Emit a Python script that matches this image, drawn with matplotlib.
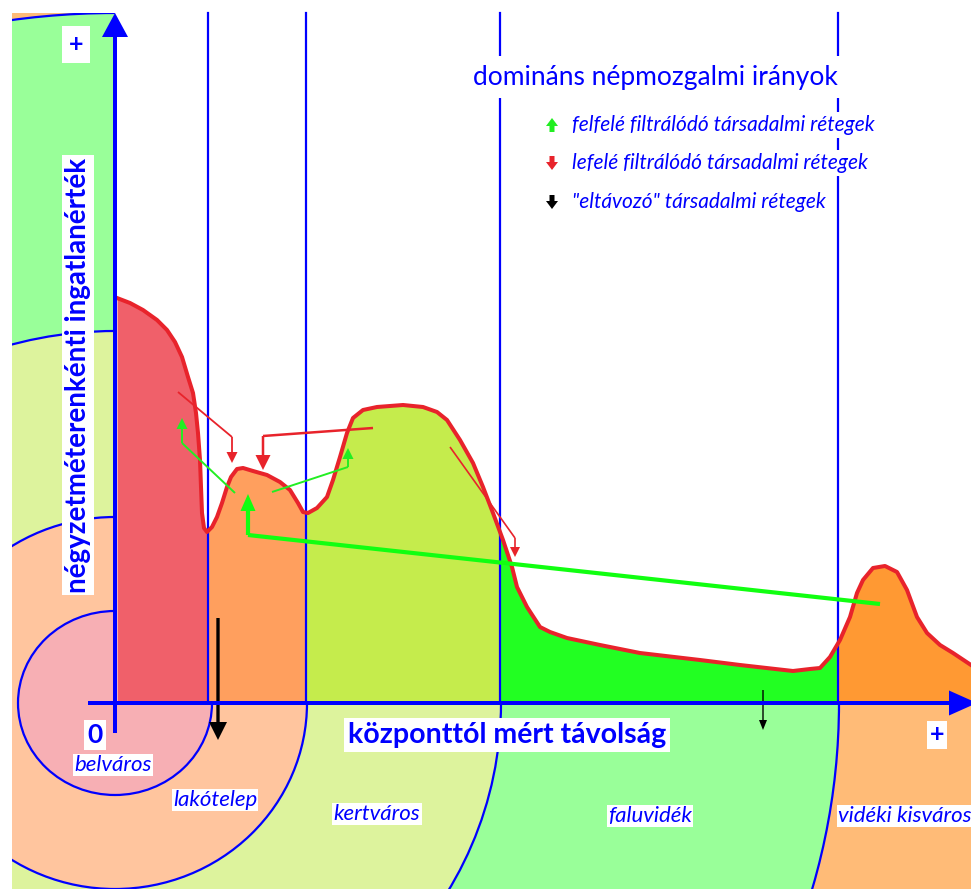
"""
filtering diagram: property value per square metre vs distance from the centre,
with the settlement zones drawn as rings round the origin.
"""

import numpy as np
import matplotlib.pyplot as plt
from matplotlib.patches import Ellipse, Rectangle

# zones (distance where each one ends) and their names
zone_names = ['belváros', 'lakótelep', 'kertváros', 'faluvidék', 'vidéki kisváros']
zone_ends = [93, 191, 385, 723, 856]
ring_widths = [97, 192, 386, 724]
ring_heights = [92, 186, 372, 690]

# property value curve
distance = [2, 15, 28, 42, 52, 60, 67, 73, 78, 81, 83, 85, 86, 87, 89, 92, 97, 102,
            107, 112, 116, 122, 128, 138, 152, 165, 175, 183, 188, 193, 202, 212,
            218, 225, 232, 238, 248, 262, 288, 308, 322, 332, 345, 358, 368, 378,
            388, 397, 402, 412, 425, 435, 452, 485, 525, 585, 625, 678, 695, 705,
            715, 725, 735, 742, 748, 758, 770, 782, 792, 802, 812, 825, 838, 856]
value = [405, 400, 393, 383, 373, 361, 346, 326, 310, 290, 270, 243, 216, 190, 175,
         171, 176, 186, 200, 216, 226, 234, 235, 232, 228, 221, 213, 200, 191, 190,
         195, 206, 223, 246, 270, 285, 293, 296, 298, 296, 291, 283, 263, 240, 216,
         190, 163, 136, 116, 96, 76, 71, 65, 58, 50, 43, 38, 32, 34, 35, 46, 63, 86,
         110, 123, 135, 137, 131, 113, 86, 70, 58, 50, 38]

# migration arrows (distance, value) - the last point is the arrow tip
down_moves = [[(63, 311), (117, 266), (117, 240)],
              [(258, 275), (148, 267), (148, 233)],
              [(335, 256), (400, 165), (400, 146)]]
up_moves = [[(120, 210), (67, 260), (67, 285)],
            [(157, 211), (233, 236), (233, 255)]]
long_up_move = [(765, 99), (133, 168), (133, 209)]
leaving_moves = [[(103, 85), (103, -37)], [(648, 13), (648, -27)]]

legend_labels = ['felfelé filtrálódó társadalmi rétegek',
                 'lefelé filtrálódó társadalmi rétegek',
                 '"eltávozó" társadalmi rétegek']

ring_colors = ['#f7afb4', '#ffc59e', '#ddf39d', '#99ff99', '#ffbb77']
fill_colors = ['#f0606a', '#ff9f5e', '#c5ec4c', '#22ff22', '#ff9933']
blue = '#0000ff'
red = '#e8232b'
green = '#22ee22'

plt.rcParams['font.family'] = ['Lato', 'DejaVu Sans']

fig = plt.figure(figsize=(9.71, 8.89), dpi=100)
ax = fig.add_axes([0, 0, 1, 1])
ax.set_xlim(-115, 856)
ax.set_ylim(-186, 703)
ax.axis('off')

frame = Rectangle((-103, -186), 959, 876, transform=ax.transData)

# background rings
bg = ax.add_patch(Rectangle((-103, -186), 959, 876, color=ring_colors[-1], zorder=0))
bg.set_clip_path(frame)
for w, h, c in reversed(list(zip(ring_widths, ring_heights, ring_colors[:-1]))):
    e = ax.add_patch(Ellipse((0, 0), 2 * w, 2 * h, facecolor=c, edgecolor=blue, lw=1.6, zorder=0))
    e.set_clip_path(frame)

# chart area is white
ax.add_patch(Rectangle((0, 0), 856, 690, color='white', zorder=1))

# filled curve, coloured by zone
starts = [0] + zone_ends[:-1]
for x0, x1, c in zip(starts, zone_ends, fill_colors):
    f = ax.fill_between(distance, value, 0, color=c, lw=0, zorder=2)
    f.set_clip_path(Rectangle((x0, 0), x1 - x0, 690, transform=ax.transData))

for x in zone_ends[:-1]:
    ax.plot([x, x], [0, 690], color=blue, lw=1.6, zorder=3)

ax.plot(distance, value, color=red, lw=2.9, solid_joinstyle='round', zorder=4)


def elbow_arrow(pts, color, lw, head_w, head_l):
    xs, ys = zip(*pts[:-1])
    ax.plot(xs, ys, color=color, lw=lw, solid_capstyle='butt', zorder=5)
    (x0, y0), (x1, y1) = pts[-2], pts[-1]
    ax.arrow(x0, y0, x1 - x0, y1 - y0, width=lw * 100 / 72, head_width=head_w,
             head_length=head_l, length_includes_head=True, color=color, lw=0, zorder=5)


elbow_arrow(down_moves[0], red, 1.3, 11, 11)
elbow_arrow(down_moves[1], red, 1.8, 15, 15)
elbow_arrow(down_moves[2], red, 1.2, 10, 10)
for m in up_moves:
    elbow_arrow(m, green, 1.4, 11, 11)
elbow_arrow(long_up_move, '#11ff11', 3.0, 15, 17)
elbow_arrow(leaving_moves[0], 'black', 2.4, 18, 18)
elbow_arrow(leaving_moves[1], 'black', 1.0, 8, 10)

# axes with arrow heads
ax.arrow(0, -30, 0, 720, width=4, head_width=26, head_length=24,
         length_includes_head=True, color=blue, lw=0, zorder=6)
ax.arrow(-27, 0, 889, 0, width=4, head_width=25, head_length=28,
         length_includes_head=True, color=blue, lw=0, zorder=6)

box = dict(facecolor='white', edgecolor='none', pad=2)
ax.text(-39, 659, '+', color=blue, fontsize=18, fontweight='bold', ha='center', va='center',
        bbox=dict(facecolor='white', edgecolor='none', pad=5), zorder=7)
ax.text(-37, 328, 'négyzetméterenkénti ingatlanérték', color=blue, fontsize=20,
        fontweight='bold', rotation=90, ha='center', va='center', bbox=box, zorder=7)
ax.text(-20, -32, '0', color=blue, fontsize=19, fontweight='bold', ha='center', va='center',
        bbox=box, zorder=7)
ax.text(392, -32, 'központtól mért távolság', color=blue, fontsize=20.5, fontweight='bold',
        ha='center', va='center', bbox=dict(facecolor='white', edgecolor='none', pad=3), zorder=7)
ax.text(822, -32, '+', color=blue, fontsize=18, fontweight='bold', ha='center', va='center',
        bbox=box, zorder=7)

# title and legend
ax.text(540, 626, 'domináns népmozgalmi irányok', color=blue, fontsize=19,
        ha='center', va='center', bbox=dict(facecolor='white', edgecolor='none', pad=6), zorder=7)
legend_y = [578, 540, 501]
legend_colors = [green, red, 'black']
legend_dirs = [1, -1, -1]
for y, lab, c, d in zip(legend_y, legend_labels, legend_colors, legend_dirs):
    ax.arrow(437, y - 7 * d, 0, 14 * d, width=5, head_width=12, head_length=8,
             length_includes_head=True, color=c, lw=0, zorder=7)
    ax.text(457, y, lab, color=blue, fontsize=15, style='italic', ha='left', va='center',
            bbox=box, zorder=7)

# zone labels
label_pos = [(-2, -62), (100, -97), (262, -111), (535, -113), (723, -113)]
for (x, y), name in zip(label_pos, zone_names):
    ha = 'left' if name == zone_names[-1] else 'center'
    ax.text(x, y, name, color=blue, fontsize=16, style='italic', ha=ha, va='center',
            bbox=dict(facecolor='white', edgecolor='none', pad=1), zorder=7)

fig.savefig('out.png', dpi=100)
